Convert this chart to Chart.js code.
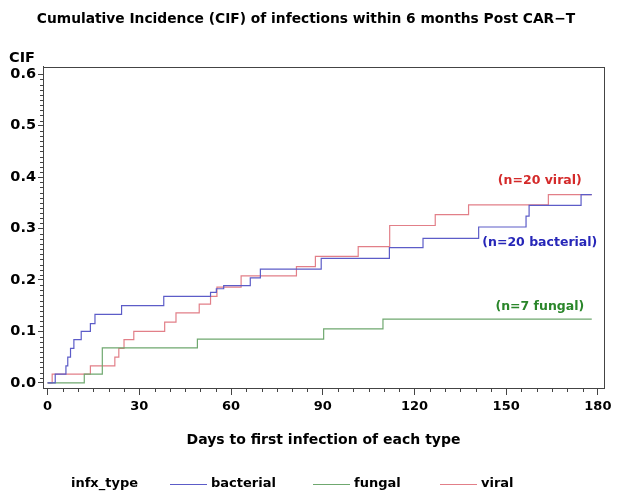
<!DOCTYPE html>
<html>
<head>
<meta charset="utf-8">
<script src="https://cdn.jsdelivr.net/npm/chart.js@4.4.1/dist/chart.umd.min.js"></script>
<style>
  html, body { margin: 0; padding: 0; background: #fff; }
</style>
</head>
<body>
<canvas id="cifChart" width="621" height="493"></canvas>
<script>
// step times (days) and CIF values
const bacterialDays = [0, 2.5, 6, 6.6, 7.5, 8.6, 11, 14, 15.5, 24.2, 38, 53.3, 55.2, 57.6, 66.3, 69.6, 89.5, 111.8, 122.8, 141, 156.5, 157.5, 174.5, 178];
const bacterialCif = [0, 0.017, 0.033, 0.05, 0.067, 0.084, 0.1, 0.115, 0.133, 0.15, 0.168, 0.176, 0.183, 0.189, 0.204, 0.221, 0.242, 0.263, 0.281, 0.303, 0.324, 0.345, 0.366, 0.366];

const fungalDays = [0, 12, 17.9, 49, 90.3, 109.7, 178];
const fungalCif = [0, 0.017, 0.068, 0.085, 0.105, 0.124, 0.124];

const viralDays = [0, 1.5, 14, 22, 23.3, 25, 28.2, 38.3, 42, 49.6, 53.3, 55.4, 63.3, 81.4, 87.6, 101.6, 111.9, 126.8, 137.7, 163.8, 178];
const viralCif = [0, 0.017, 0.033, 0.05, 0.067, 0.084, 0.1, 0.118, 0.136, 0.153, 0.168, 0.186, 0.208, 0.226, 0.246, 0.265, 0.306, 0.327, 0.346, 0.366, 0.366];

const xTicks = [0, 30, 60, 90, 120, 150, 180];
const yTicks = [0, 0.1, 0.2, 0.3, 0.4, 0.5, 0.6];
const seriesNames = ['bacterial', 'fungal', 'viral'];
const groupSizes = [20, 7, 20];

const FONT = '"DejaVu Sans", sans-serif';
const lineColors = { bacterial: '#5c5cc8', fungal: '#6fa86f', viral: '#e27f88' };
const textColors = { bacterial: '#2626b8', fungal: '#2a862a', viral: '#d42a2a' };

function toPoints(days, cif) {
  return days.map((d, i) => ({ x: d, y: cif[i] }));
}

const seriesData = {
  bacterial: toPoints(bacterialDays, bacterialCif),
  fungal: toPoints(fungalDays, fungalCif),
  viral: toPoints(viralDays, viralCif)
};

// box round the plot + minor ticks
const framePlugin = {
  id: 'frame',
  afterDraw(chart) {
    const { ctx, chartArea: a, scales } = chart;
    ctx.save();
    ctx.strokeStyle = '#444';
    ctx.lineWidth = 1;
    ctx.strokeRect(Math.round(a.left) + 0.5, Math.round(a.top) + 0.5,
      Math.round(a.right - a.left), Math.round(a.bottom - a.top));
    ctx.beginPath();
    for (let d = 0; d <= 180; d += 5) {
      if (d % 30 === 0) continue;
      const px = Math.round(scales.x.getPixelForValue(d)) + 0.5;
      ctx.moveTo(px, a.bottom);
      ctx.lineTo(px, a.bottom + 4);
    }
    for (let k = 0; k <= 60; k++) {
      if (k % 10 === 0) continue;
      const py = Math.round(scales.y.getPixelForValue(k / 100)) + 0.5;
      ctx.moveTo(a.left, py);
      ctx.lineTo(a.left - 3, py);
    }
    ctx.stroke();

    // "CIF" axis label above the y axis
    ctx.fillStyle = '#000';
    ctx.font = 'bold 14.5px ' + FONT;
    ctx.textAlign = 'left';
    ctx.textBaseline = 'middle';
    ctx.fillText('CIF', 9, a.top - 8);
    ctx.restore();
  }
};

// (n=..) labels next to the curve ends
const countLabels = {
  id: 'countLabels',
  afterDatasetsDraw(chart) {
    const { ctx, scales } = chart;
    const spots = { viral: [161, 0.393], bacterial: [161, 0.272], fungal: [161, 0.148] };
    ctx.save();
    ctx.font = 'bold 12.5px ' + FONT;
    ctx.textAlign = 'center';
    ctx.textBaseline = 'middle';
    seriesNames.forEach((name, i) => {
      const [dx, dy] = spots[name];
      ctx.fillStyle = textColors[name];
      ctx.fillText('(n=' + groupSizes[i] + ' ' + name + ')',
        scales.x.getPixelForValue(dx), scales.y.getPixelForValue(dy));
    });
    ctx.restore();
  }
};

// legend row at the bottom: infx_type —— bacterial —— fungal —— viral
const bottomLegend = {
  id: 'bottomLegend',
  afterDraw(chart) {
    const { ctx } = chart;
    const y = 484;
    ctx.save();
    ctx.font = 'bold 13px ' + FONT;
    ctx.textBaseline = 'middle';
    ctx.textAlign = 'left';
    ctx.fillStyle = '#000';
    ctx.fillText('infx_type', 71, y);
    const starts = [170, 313, 440];
    seriesNames.forEach((name, i) => {
      const x0 = starts[i];
      ctx.strokeStyle = lineColors[name];
      ctx.lineWidth = 1;
      ctx.beginPath();
      ctx.moveTo(x0, y + 0.5);
      ctx.lineTo(x0 + 37, y + 0.5);
      ctx.stroke();
      ctx.fillStyle = '#000';
      ctx.fillText(name, x0 + 41, y);
    });
    ctx.restore();
  }
};

const ctx = document.getElementById('cifChart').getContext('2d');

new Chart(ctx, {
  type: 'line',
  data: {
    datasets: seriesNames.map(name => ({
      label: name,
      data: seriesData[name],
      borderColor: lineColors[name],
      backgroundColor: lineColors[name],
      borderWidth: 1.2,
      stepped: true,
      pointRadius: 0,
      fill: false
    }))
  },
  options: {
    responsive: false,
    animation: false,
    events: [],
    layout: { padding: { left: 8, right: 17, top: 0, bottom: 42 } },
    plugins: {
      legend: { display: false },
      tooltip: { enabled: false },
      title: {
        display: true,
        text: 'Cumulative Incidence (CIF) of infections within 6 months Post CAR\u2212T',
        color: '#000',
        font: { family: FONT, size: 13.8, weight: 'bold' },
        padding: { top: 11, bottom: 39 }
      }
    },
    scales: {
      x: {
        type: 'linear',
        min: -1.5,
        max: 182,
        afterBuildTicks(scale) { scale.ticks = xTicks.map(v => ({ value: v })); },
        afterFit(scale) { scale.height = 63; },
        grid: { drawOnChartArea: false, tickLength: 7, color: '#444' },
        border: { color: '#444' },
        ticks: {
          color: '#000',
          font: { family: FONT, size: 13, weight: 'bold' },
          padding: 4,
          maxRotation: 0,
          callback: v => String(v)
        },
        title: {
          display: true,
          text: 'Days to first infection of each type',
          color: '#000',
          font: { family: FONT, size: 14, weight: 'bold' },
          padding: { top: 4, bottom: 2 }
        }
      },
      y: {
        type: 'linear',
        min: -0.01,
        max: 0.615,
        afterBuildTicks(scale) { scale.ticks = yTicks.map(v => ({ value: v })); },
        afterFit(scale) { scale.width = 35; },
        grid: { drawOnChartArea: false, tickLength: 5, color: '#444' },
        border: { color: '#444' },
        ticks: {
          color: '#000',
          font: { family: FONT, size: 14.5, weight: 'bold' },
          padding: 2,
          callback: v => v.toFixed(1)
        }
      }
    }
  },
  plugins: [framePlugin, countLabels, bottomLegend]
});
</script>
</body>
</html>
